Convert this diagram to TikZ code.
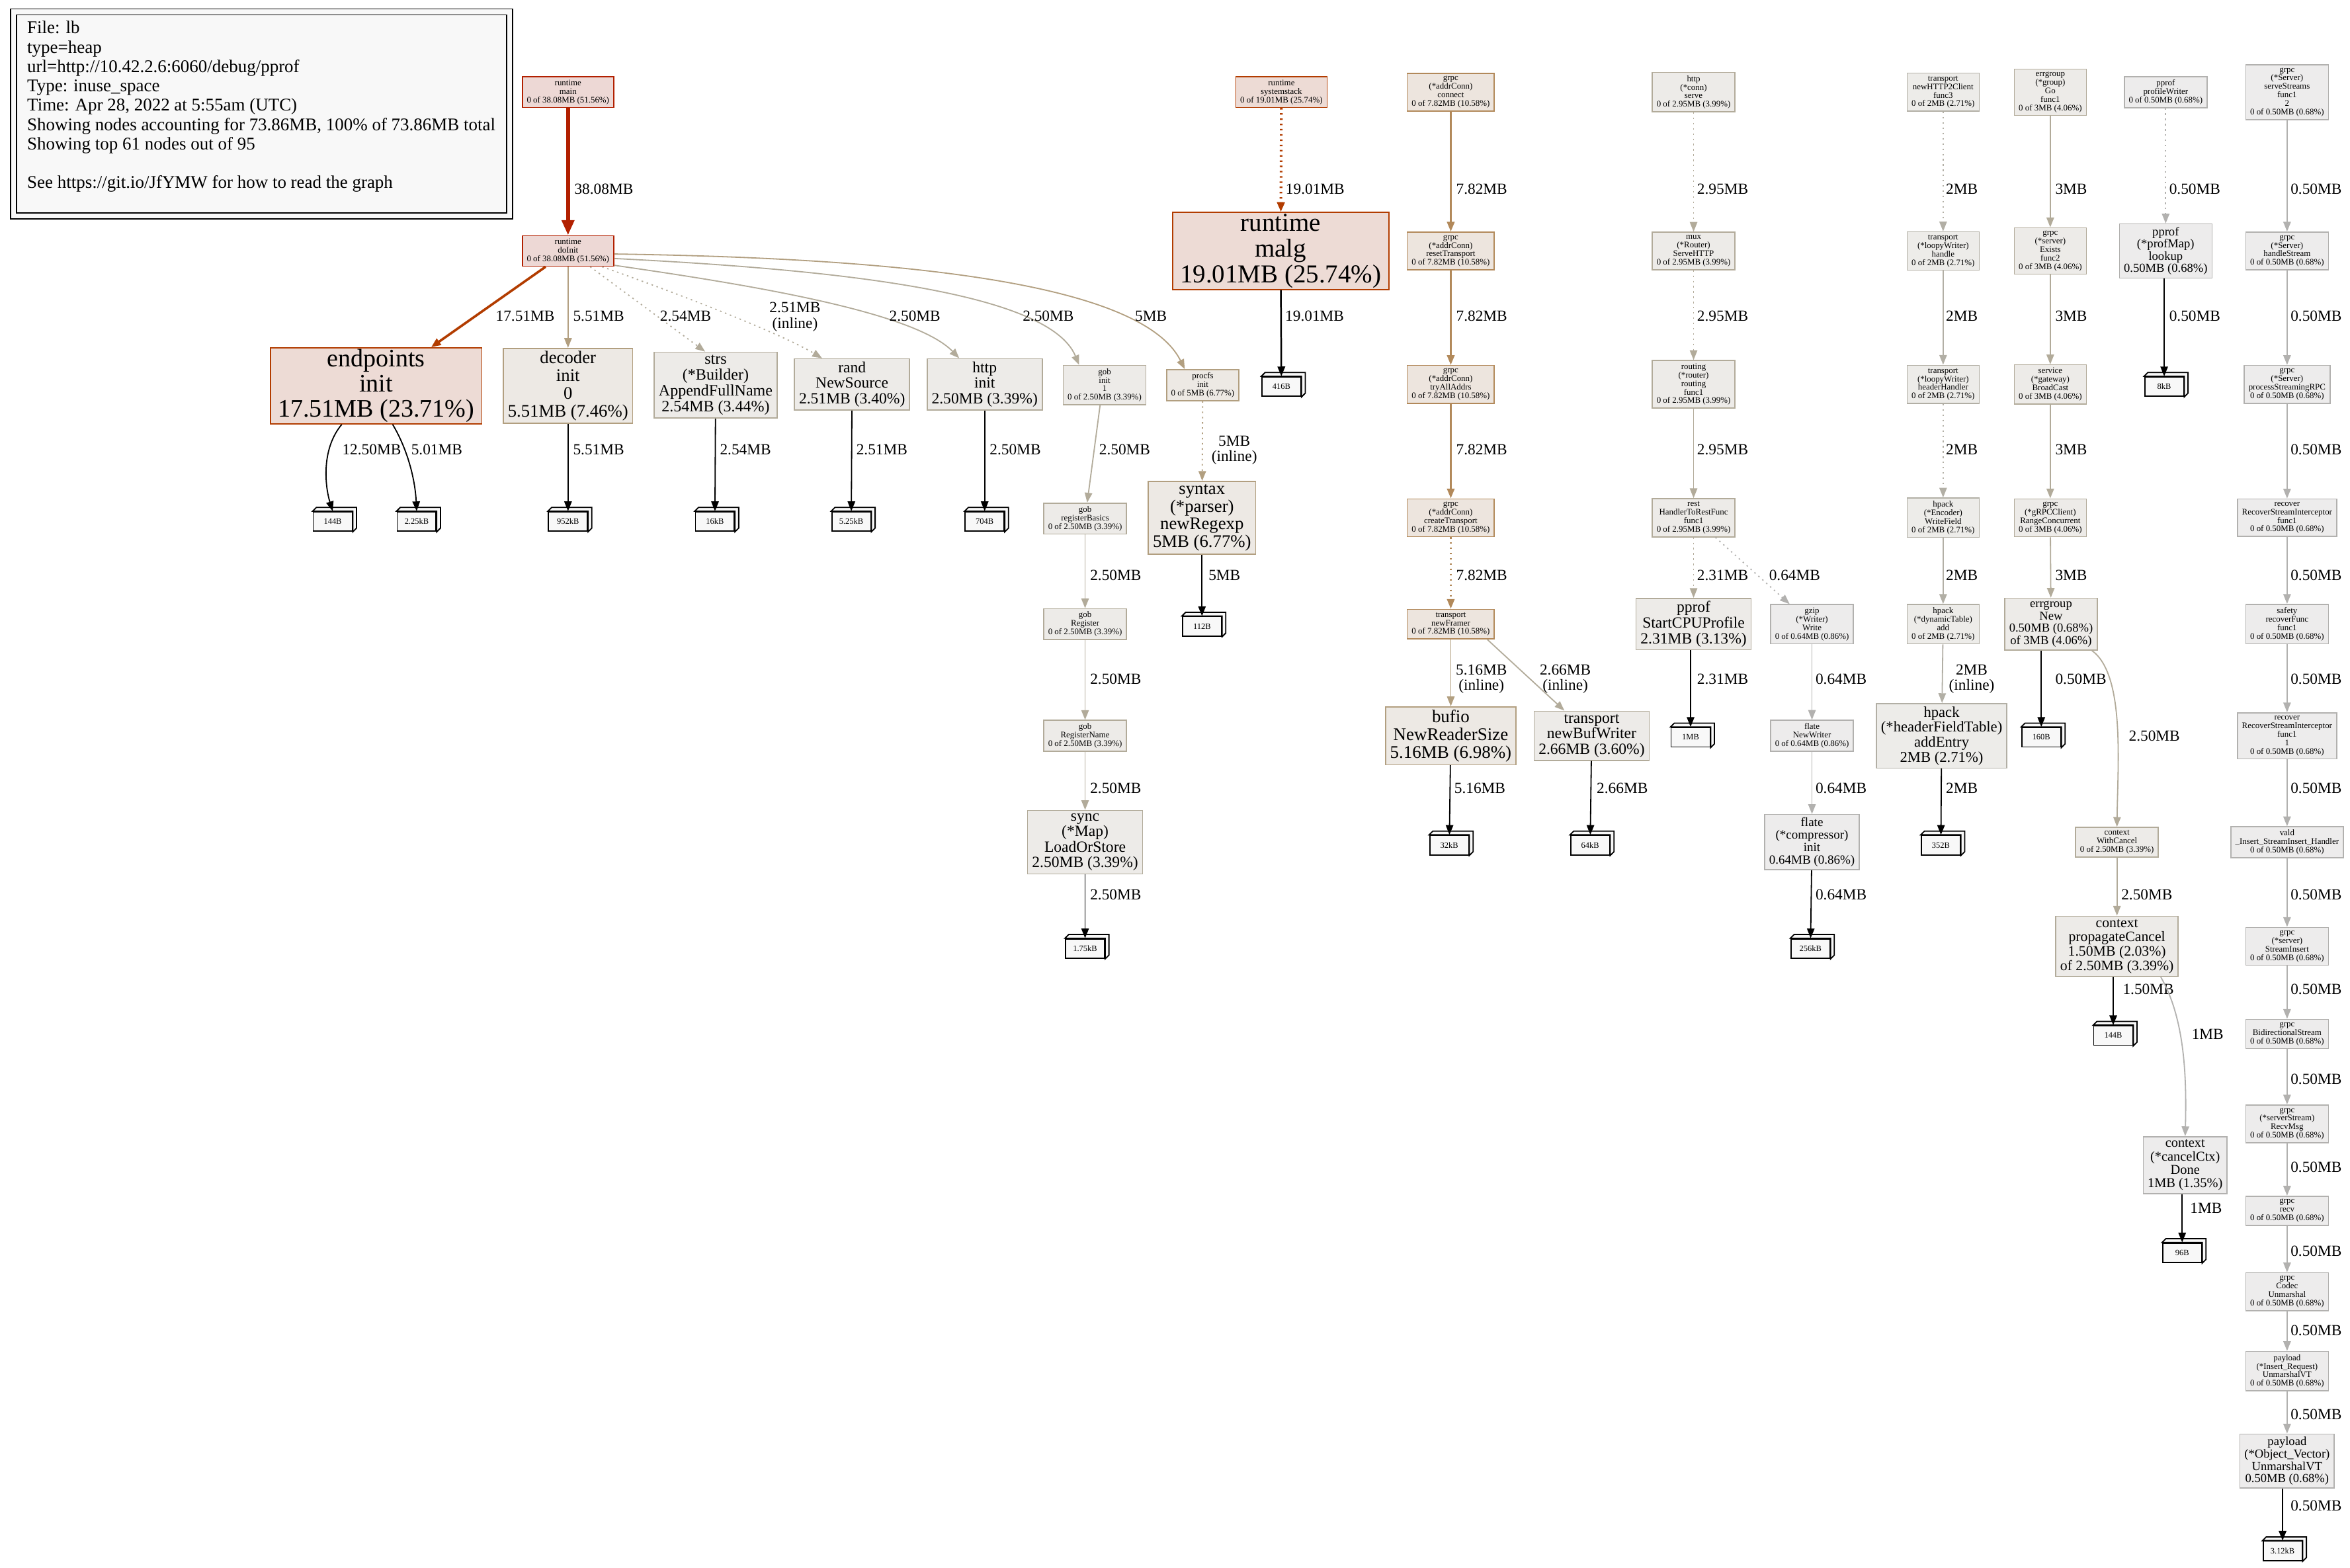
\documentclass[tikz,border=0pt]{standalone}
\usepackage{fontspec}
\setmainfont{Liberation Serif}
\usetikzlibrary{arrows.meta}
\newcommand{\pfs}[1]{\fontsize{#1}{#1}\selectfont}
\definecolor{redB}{HTML}{B22000}\definecolor{redF}{HTML}{EDD8D5}
\definecolor{orB}{HTML}{B23C00}\definecolor{orF}{HTML}{EDDBD5}
\definecolor{brB}{HTML}{B2895A}\definecolor{brF}{HTML}{EDE5DE}
\definecolor{tanB}{HTML}{B29F80}\definecolor{tanF}{HTML}{EDE9E4}
\definecolor{gtB}{HTML}{B2AB9A}\definecolor{gtF}{HTML}{EDEBE8}
\definecolor{lgB}{HTML}{B2AFA5}\definecolor{lgF}{HTML}{EDECE9}
\definecolor{gyB}{HTML}{B2B1AF}\definecolor{gyF}{HTML}{EDECEC}
\definecolor{leafF}{HTML}{F8F8F8}
\definecolor{legF}{HTML}{F8F8F8}
\tikzset{
  nd/.style={draw, rectangle, align=center, inner xsep=3pt, inner ysep=2pt, line width=0.7pt, font=\pfs{5.7}},
  leaf/.style={draw, fill=leafF, line width=0.8pt, minimum width=26pt, minimum height=13pt, inner sep=0pt, font=\pfs{5.5}},
  e/.style={-{Triangle[length=6.5pt,width=5pt]}, line width=0.8pt},
  dot/.style={dash pattern=on 1pt off 2.5pt},
  lab/.style={anchor=west, align=center, inner sep=0pt, text=black, font=\pfs{10.3}},
}
\begin{document}
\begin{tikzpicture}[x=1pt,y=-1pt]
\useasboundingbox[fill=white] (0,0) rectangle (1568,1046);
% legend
\draw[line width=0.7pt, fill=legF] (7,6) rectangle (342,146);
\draw[line width=0.7pt] (11,10) rectangle (338,142);
\node[anchor=north west, align=left, inner sep=0pt, font=\fontsize{11.9}{12.9}\selectfont] (legend) at (18,14)
  {File: lb\\type=heap\\url=http://10.42.2.6:6060/debug/pprof\\Type: inuse\_space\\Time: Apr 28, 2022 at 5:55am (UTC)\\
   Showing nodes accounting for 73.86MB, 100\% of 73.86MB total\\Showing top 61 nodes out of 95\\~\\See https://git.io/JfYMW for how to read the graph};

% runtime / init
\node[nd, draw=redB, fill=redF] (rtmain) at (379,61.5) {runtime\\main\\0 of 38.08MB (51.56\%)};
\node[nd, draw=redB, fill=redF] (rtdoinit) at (379,167.5) {runtime\\doInit\\0 of 38.08MB (51.56\%)};
\node[nd, draw=orB, fill=orF, inner xsep=5pt, inner ysep=1pt, font=\pfs{16.8}] (epinit) at (251,257.5) {endpoints\\init\\17.51MB (23.71\%)};
\node[nd, draw=tanB, fill=tanF, font=\pfs{11.8}] (decinit) at (379,257.5) {decoder\\init\\0\\5.51MB (7.46\%)};
\node[nd, draw=gtB, fill=gtF, font=\pfs{10.6}] (strs) at (477.5,257) {strs\\(*Builder)\\AppendFullName\\2.54MB (3.44\%)};
\node[nd, draw=gtB, fill=gtF, font=\pfs{10.4}] (randns) at (568.5,256.5) {rand\\NewSource\\2.51MB (3.40\%)};
\node[nd, draw=gtB, fill=gtF, font=\pfs{10.4}] (httpinit) at (657,256.5) {http\\init\\2.50MB (3.39\%)};
\node[nd, draw=gtB, fill=gtF] (gobinit) at (737,257) {gob\\init\\1\\0 of 2.50MB (3.39\%)};
\node[nd, draw=tanB, fill=tanF] (procfs) at (802.5,257) {procfs\\init\\0 of 5MB (6.77\%)};
\node[nd, draw=gtB, fill=gtF] (regbasics) at (724,346) {gob\\registerBasics\\0 of 2.50MB (3.39\%)};
\node[nd, draw=gtB, fill=gtF] (gobreg) at (724,416.5) {gob\\Register\\0 of 2.50MB (3.39\%)};
\node[nd, draw=gtB, fill=gtF] (gobregname) at (724,491) {gob\\RegisterName\\0 of 2.50MB (3.39\%)};
\node[nd, draw=gtB, fill=gtF, font=\pfs{10.4}] (syncmap) at (724,562) {sync\\(*Map)\\LoadOrStore\\2.50MB (3.39\%)};
\node[nd, draw=tanB, fill=tanF, font=\pfs{11.8}] (syntax) at (802,345.5) {syntax\\(*parser)\\newRegexp\\5MB (6.77\%)};
\node[nd, draw=orB, fill=orF] (sysstack) at (855,61.5) {runtime\\systemstack\\0 of 19.01MB (25.74\%)};
\node[nd, draw=orB, fill=orF, inner xsep=5pt, inner ysep=1pt, font=\pfs{17.2}] (malg) at (854.5,167.5) {runtime\\malg\\19.01MB (25.74\%)};

% grpc client
\node[nd, draw=brB, fill=brF] (gcconnect) at (968,61.5) {grpc\\(*addrConn)\\connect\\0 of 7.82MB (10.58\%)};
\node[nd, draw=brB, fill=brF] (gcreset) at (968,167.5) {grpc\\(*addrConn)\\resetTransport\\0 of 7.82MB (10.58\%)};
\node[nd, draw=brB, fill=brF] (gctryall) at (968,256.5) {grpc\\(*addrConn)\\tryAllAddrs\\0 of 7.82MB (10.58\%)};
\node[nd, draw=brB, fill=brF] (gccreate) at (968,345.5) {grpc\\(*addrConn)\\createTransport\\0 of 7.82MB (10.58\%)};
\node[nd, draw=brB, fill=brF] (trframer) at (968,416.5) {transport\\newFramer\\0 of 7.82MB (10.58\%)};
\node[nd, draw=tanB, fill=tanF, font=\pfs{11.9}] (bufio) at (968,491) {bufio\\NewReaderSize\\5.16MB (6.98\%)};
\node[nd, draw=gtB, fill=gtF, font=\pfs{10.4}] (trbufw) at (1062,491) {transport\\newBufWriter\\2.66MB (3.60\%)};

% http
\node[nd, draw=gtB, fill=gtF] (hconn) at (1130,61.5) {http\\(*conn)\\serve\\0 of 2.95MB (3.99\%)};
\node[nd, draw=gtB, fill=gtF] (muxserve) at (1130,167.5) {mux\\(*Router)\\ServeHTTP\\0 of 2.95MB (3.99\%)};
\node[nd, draw=gtB, fill=gtF] (routing) at (1130,256.5) {routing\\(*router)\\routing\\func1\\0 of 2.95MB (3.99\%)};
\node[nd, draw=gtB, fill=gtF] (rest) at (1130,345.5) {rest\\HandlerToRestFunc\\func1\\0 of 2.95MB (3.99\%)};
\node[nd, draw=gtB, fill=gtF, font=\pfs{10.4}] (pprofcpu) at (1130,416.5) {pprof\\StartCPUProfile\\2.31MB (3.13\%)};
\node[nd, draw=gyB, fill=gyF] (gzipw) at (1209,416.5) {gzip\\(*Writer)\\Write\\0 of 0.64MB (0.86\%)};
\node[nd, draw=gyB, fill=gyF] (flatenw) at (1209,491) {flate\\NewWriter\\0 of 0.64MB (0.86\%)};
\node[nd, draw=gyB, fill=gyF, font=\pfs{8.4}] (flatecomp) at (1209,562) {flate\\(*compressor)\\init\\0.64MB (0.86\%)};

% transport / hpack
\node[nd, draw=lgB, fill=lgF] (trh2c) at (1296.5,61.5) {transport\\newHTTP2Client\\func3\\0 of 2MB (2.71\%)};
\node[nd, draw=lgB, fill=lgF] (loopyh) at (1296.5,167.5) {transport\\(*loopyWriter)\\handle\\0 of 2MB (2.71\%)};
\node[nd, draw=lgB, fill=lgF] (loopyhh) at (1296.5,256.5) {transport\\(*loopyWriter)\\headerHandler\\0 of 2MB (2.71\%)};
\node[nd, draw=lgB, fill=lgF] (hpwf) at (1296.5,345.5) {hpack\\(*Encoder)\\WriteField\\0 of 2MB (2.71\%)};
\node[nd, draw=lgB, fill=lgF] (hpadd) at (1296.5,416.5) {hpack\\(*dynamicTable)\\add\\0 of 2MB (2.71\%)};
\node[nd, draw=lgB, fill=lgF, font=\pfs{10}] (hpentry) at (1295.5,491) {hpack\\(*headerFieldTable)\\addEntry\\2MB (2.71\%)};

% errgroup / context
\node[nd, draw=gtB, fill=gtF] (eggo) at (1368,61.5) {errgroup\\(*group)\\Go\\func1\\0 of 3MB (4.06\%)};
\node[nd, draw=gtB, fill=gtF] (exists) at (1368,167.5) {grpc\\(*server)\\Exists\\func2\\0 of 3MB (4.06\%)};
\node[nd, draw=gtB, fill=gtF] (bcast) at (1368,256.5) {service\\(*gateway)\\BroadCast\\0 of 3MB (4.06\%)};
\node[nd, draw=gtB, fill=gtF] (rangec) at (1368,345.5) {grpc\\(*gRPCClient)\\RangeConcurrent\\0 of 3MB (4.06\%)};
\node[nd, draw=gtB, fill=gtF, font=\pfs{8.2}] (egnew) at (1368.5,416.5) {errgroup\\New\\0.50MB (0.68\%)\\of 3MB (4.06\%)};
\node[nd, draw=gtB, fill=gtF] (ctxwc) at (1412.5,562) {context\\WithCancel\\0 of 2.50MB (3.39\%)};
\node[nd, draw=gtB, fill=gtF, font=\pfs{9.6}] (ctxprop) at (1412.5,631.5) {context\\propagateCancel\\1.50MB (2.03\%)\\of 2.50MB (3.39\%)};
\node[nd, draw=gyB, fill=gyF, font=\pfs{9}] (ctxdone) at (1458,777.5) {context\\(*cancelCtx)\\Done\\1MB (1.35\%)};

% pprof
\node[nd, draw=gyB, fill=gyF] (pwriter) at (1445,61.5) {pprof\\profileWriter\\0 of 0.50MB (0.68\%)};
\node[nd, draw=gyB, fill=gyF, font=\pfs{8.2}] (pmap) at (1445,167.5) {pprof\\(*profMap)\\lookup\\0.50MB (0.68\%)};

% grpc server
\node[nd, draw=gyB, fill=gyF] (ssf) at (1526,61.5) {grpc\\(*Server)\\serveStreams\\func1\\2\\0 of 0.50MB (0.68\%)};
\node[nd, draw=gyB, fill=gyF] (hstream) at (1526,167.5) {grpc\\(*Server)\\handleStream\\0 of 0.50MB (0.68\%)};
\node[nd, draw=gyB, fill=gyF] (psrpc) at (1526,256.5) {grpc\\(*Server)\\processStreamingRPC\\0 of 0.50MB (0.68\%)};
\node[nd, draw=gyB, fill=gyF] (rsi) at (1526,345.5) {recover\\RecoverStreamInterceptor\\func1\\0 of 0.50MB (0.68\%)};
\node[nd, draw=gyB, fill=gyF] (safety) at (1526,416.5) {safety\\recoverFunc\\func1\\0 of 0.50MB (0.68\%)};
\node[nd, draw=gyB, fill=gyF] (rsi1) at (1526,491) {recover\\RecoverStreamInterceptor\\func1\\1\\0 of 0.50MB (0.68\%)};
\node[nd, draw=gyB, fill=gyF] (vald) at (1526,562) {vald\\\_Insert\_StreamInsert\_Handler\\0 of 0.50MB (0.68\%)};
\node[nd, draw=gyB, fill=gyF] (sinsert) at (1526,631.5) {grpc\\(*server)\\StreamInsert\\0 of 0.50MB (0.68\%)};
\node[nd, draw=gyB, fill=gyF] (bidi) at (1526,690) {grpc\\BidirectionalStream\\0 of 0.50MB (0.68\%)};
\node[nd, draw=gyB, fill=gyF] (recvmsg) at (1526,750) {grpc\\(*serverStream)\\RecvMsg\\0 of 0.50MB (0.68\%)};
\node[nd, draw=gyB, fill=gyF] (recv) at (1526,808) {grpc\\recv\\0 of 0.50MB (0.68\%)};
\node[nd, draw=gyB, fill=gyF] (codec) at (1526,862) {grpc\\Codec\\Unmarshal\\0 of 0.50MB (0.68\%)};
\node[nd, draw=gyB, fill=gyF] (plinsert) at (1526,915) {payload\\(*Insert\_Request)\\UnmarshalVT\\0 of 0.50MB (0.68\%)};
\node[nd, draw=gyB, fill=gyF, font=\pfs{8.2}] (plvec) at (1526,975) {payload\\(*Object\_Vector)\\UnmarshalVT\\0.50MB (0.68\%)};

% leaves
\node[leaf] (l144a) at (222,348) {144B};
\node[leaf] (l225k) at (278,348) {2.25kB};
\node[leaf] (l952k) at (379,348) {952kB};
\node[leaf] (l16k) at (477,348) {16kB};
\node[leaf] (l525k) at (568,348) {5.25kB};
\node[leaf] (l704) at (657,348) {704B};
\node[leaf] (l416) at (855,258) {416B};
\node[leaf] (l112) at (802,418) {112B};
\node[leaf] (l175k) at (724,633) {1.75kB};
\node[leaf] (l32k) at (967,564) {32kB};
\node[leaf] (l64k) at (1061,564) {64kB};
\node[leaf] (l1m) at (1128,492) {1MB};
\node[leaf] (l256k) at (1208,633) {256kB};
\node[leaf] (l352) at (1295,564) {352B};
\node[leaf] (l160) at (1362,492) {160B};
\node[leaf] (l144b) at (1410,691) {144B};
\node[leaf] (l96) at (1456,836) {96B};
\node[leaf] (l8k) at (1444,258) {8kB};
\node[leaf] (l312k) at (1523,1035) {3.12kB};
\foreach \n in {l144a,l225k,l952k,l16k,l525k,l704,l416,l112,l175k,l32k,l64k,l1m,l256k,l352,l160,l144b,l96,l8k,l312k}
  \draw[line width=0.8pt, fill=leafF] (\n.north west) -- ++(2.5pt,2.5pt) -- ([shift={(2.5pt,2.5pt)}]\n.north east)
    -- ([shift={(2.5pt,2.5pt)}]\n.south east) -- (\n.south east) -- (\n.north east) -- cycle;

% edges: init tree
\draw[-{Triangle[length=10pt,width=8pt]}, line width=2.6pt, redB] (rtmain) -- (rtdoinit) node[lab] at (382,126) {38.08MB};
\draw[e, orB, line width=1.6pt] (rtdoinit) -- (epinit) node[lab] at (330,211) {17.51MB};
\draw[e, tanB] (rtdoinit) -- (decinit) node[lab] at (382,211) {5.51MB};
\draw[e, gtB, dot] ([xshift=-16pt]rtdoinit.south east) -- ([xshift=-7pt]strs.north) node[lab] at (440,211) {2.54MB};
\draw[e, gtB, dot] ([xshift=-8pt]rtdoinit.south east) .. controls (450,195) and (520,222) .. ([xshift=-20pt]randns.north)
  node[lab] at (513,211.5) {2.51MB\\(inline)};
\draw[e, gtB] ([yshift=1pt]rtdoinit.south east) .. controls (500,190) and (610,208) .. ([xshift=-17pt]httpinit.north)
  node[lab] at (593,211) {2.50MB};
\draw[e, gtB] ([yshift=-5pt]rtdoinit.east) .. controls (560,180) and (700,195) .. ([xshift=-17pt]gobinit.north)
  node[lab] at (682,211) {2.50MB};
\draw[e, tanB] ([yshift=-2pt]rtdoinit.east) .. controls (580,172) and (760,185) .. ([xshift=-12pt]procfs.north)
  node[lab] at (757,211) {5MB};
\draw[e, black] ([xshift=-23pt]epinit.south) .. controls (214,300) and (217,325) .. (l144a.north) node[lab] at (228,300) {12.50MB};
\draw[e, black] ([xshift=11pt]epinit.south) .. controls (272,300) and (277,320) .. (l225k.north) node[lab] at (274,300) {5.01MB};
\draw[e, black] (decinit) -- (l952k) node[lab] at (382,300) {5.51MB};
\draw[e, black] (strs) -- (l16k) node[lab] at (480,300) {2.54MB};
\draw[e, black] (randns) -- (l525k) node[lab] at (571,300) {2.51MB};
\draw[e, black] (httpinit) -- (l704) node[lab] at (660,300) {2.50MB};
\draw[e, gtB] ([xshift=-3pt]gobinit.south) -- (regbasics) node[lab] at (733,300) {2.50MB};
\draw[e, gtB] (regbasics) -- (gobreg) node[lab] at (727,384) {2.50MB};
\draw[e, gtB] (gobreg) -- (gobregname) node[lab] at (727,453) {2.50MB};
\draw[e, gtB] (gobregname) -- (syncmap) node[lab] at (727,526) {2.50MB};
\draw[e, black] (syncmap) -- (l175k) node[lab] at (727,597) {2.50MB};
\draw[e, tanB, dot] (procfs) -- (syntax) node[lab] at (808,300.5) {5MB\\(inline)};
\draw[e, black] (syntax) -- (l112) node[lab] at (806,384) {5MB};
\draw[e, orB, dot, line width=1.8pt] (sysstack) -- (malg) node[lab] at (857,126) {19.01MB};
\draw[e, black, line width=1.1pt] (malg) -- (l416) node[lab] at (857,211) {19.01MB};

% edges: grpc client
\draw[e, brB, line width=1.2pt] (gcconnect) -- (gcreset) node[lab] at (971,126) {7.82MB};
\draw[e, brB, line width=1.2pt] (gcreset) -- (gctryall) node[lab] at (971,211) {7.82MB};
\draw[e, brB, line width=1.2pt] (gctryall) -- (gccreate) node[lab] at (971,300) {7.82MB};
\draw[e, brB, line width=1.2pt, dot] (gccreate) -- (trframer) node[lab] at (971,384) {7.82MB};
\draw[e, tanB] (trframer) -- (bufio) node[lab] at (971,453) {5.16MB\\(inline)};
\draw[e, gtB] ([xshift=-5pt]trframer.south east) -- (trbufw) node[lab] at (1027,453) {2.66MB\\(inline)};
\draw[e, black] (bufio) -- (l32k) node[lab] at (970,526) {5.16MB};
\draw[e, black] (trbufw) -- (l64k) node[lab] at (1065,526) {2.66MB};

% edges: http
\draw[e, gtB, dot] (hconn) -- (muxserve) node[lab] at (1132,126) {2.95MB};
\draw[e, gtB, dot] (muxserve) -- (routing) node[lab] at (1132,211) {2.95MB};
\draw[e, gtB] (routing) -- (rest) node[lab] at (1132,300) {2.95MB};
\draw[e, gtB, dot] (rest) -- (pprofcpu) node[lab] at (1132,384) {2.31MB};
\draw[e, gyB, dot] (rest) -- (gzipw) node[lab] at (1180,384) {0.64MB};
\draw[e, black] (pprofcpu.south -| l1m) -- (l1m) node[lab] at (1132,453) {2.31MB};
\draw[e, gyB] (gzipw) -- (flatenw) node[lab] at (1211,453) {0.64MB};
\draw[e, gyB] (flatenw) -- (flatecomp) node[lab] at (1211,526) {0.64MB};
\draw[e, black] (flatecomp) -- (l256k) node[lab] at (1211,597) {0.64MB};

% edges: transport / hpack
\draw[e, lgB, dot] (trh2c) -- (loopyh) node[lab] at (1298,126) {2MB};
\draw[e, lgB] (loopyh) -- (loopyhh) node[lab] at (1298,211) {2MB};
\draw[e, lgB, dot] (loopyhh) -- (hpwf) node[lab] at (1298,300) {2MB};
\draw[e, lgB] (hpwf) -- (hpadd) node[lab] at (1298,384) {2MB};
\draw[e, lgB] (hpadd) -- (hpentry) node[lab] at (1300,453) {2MB\\(inline)};
\draw[e, black] (hpentry) -- (l352) node[lab] at (1298,526) {2MB};

% edges: errgroup / context
\draw[e, gtB] (eggo) -- (exists) node[lab] at (1371,126) {3MB};
\draw[e, gtB] (exists) -- (bcast) node[lab] at (1371,211) {3MB};
\draw[e, gtB] (bcast) -- (rangec) node[lab] at (1371,300) {3MB};
\draw[e, gtB] (rangec) -- (egnew) node[lab] at (1371,384) {3MB};
\draw[e, black] (egnew.south -| l160) -- (l160) node[lab] at (1371,453) {0.50MB};
\draw[e, gtB] ([xshift=-4pt]egnew.south east) .. controls (1418,450) and (1413,510) .. (ctxwc.north) node[lab] at (1420,491) {2.50MB};
\draw[e, gtB] (ctxwc) -- (ctxprop) node[lab] at (1415,597) {2.50MB};
\draw[e, black] (ctxprop.south -| l144b) -- (l144b) node[lab] at (1416,660) {1.50MB};
\draw[e, gyB] ([xshift=-12pt]ctxprop.south east) .. controls (1458,680) and (1459,720) .. (ctxdone.north) node[lab] at (1462,690) {1MB};
\draw[e, black] (ctxdone.south -| l96) -- (l96) node[lab] at (1461,806) {1MB};

% edges: pprof
\draw[e, gyB, dot] (pwriter) -- (pmap) node[lab] at (1447,126) {0.50MB};
\draw[e, black] (pmap.south -| l8k) -- (l8k) node[lab] at (1447,211) {0.50MB};

% edges: grpc server
\draw[e, gyB] (ssf) -- (hstream) node[lab] at (1528,126) {0.50MB};
\draw[e, gyB] (hstream) -- (psrpc) node[lab] at (1528,211) {0.50MB};
\draw[e, gyB] (psrpc) -- (rsi) node[lab] at (1528,300) {0.50MB};
\draw[e, gyB] (rsi) -- (safety) node[lab] at (1528,384) {0.50MB};
\draw[e, gyB] (safety) -- (rsi1) node[lab] at (1528,453) {0.50MB};
\draw[e, gyB] (rsi1) -- (vald) node[lab] at (1528,526) {0.50MB};
\draw[e, gyB] (vald) -- (sinsert) node[lab] at (1528,597) {0.50MB};
\draw[e, gyB] (sinsert) -- (bidi) node[lab] at (1528,660) {0.50MB};
\draw[e, gyB] (bidi) -- (recvmsg) node[lab] at (1528,720) {0.50MB};
\draw[e, gyB] (recvmsg) -- (recv) node[lab] at (1528,779) {0.50MB};
\draw[e, gyB] (recv) -- (codec) node[lab] at (1528,835) {0.50MB};
\draw[e, gyB] (codec) -- (plinsert) node[lab] at (1528,888) {0.50MB};
\draw[e, gyB] (plinsert) -- (plvec) node[lab] at (1528,944) {0.50MB};
\draw[e, black] (plvec.south -| l312k) -- (l312k) node[lab] at (1528,1005) {0.50MB};
\end{tikzpicture}
\end{document}
